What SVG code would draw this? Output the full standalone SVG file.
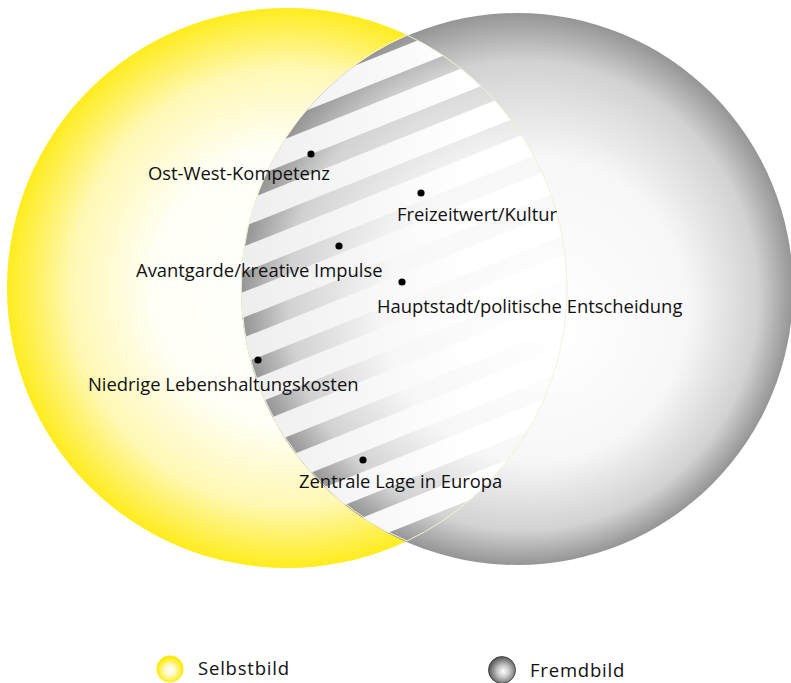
<svg xmlns="http://www.w3.org/2000/svg" width="791" height="683" viewBox="0 0 791 683">
<style>
.lbl{font-family:"Open Sans","Liberation Sans",sans-serif;font-size:18.4px;fill:#111;}
.leg{font-family:"Open Sans","Liberation Sans",sans-serif;font-size:18.5px;fill:#111;letter-spacing:0.8px;}
.dot{fill:#000;}
</style>
<defs>
<radialGradient id="gY" gradientUnits="userSpaceOnUse" cx="287" cy="288" r="280" fx="300" fy="285">
<stop offset="0" stop-color="#ffffff"/>
<stop offset="0.5" stop-color="#fffff6"/>
<stop offset="0.78" stop-color="#fff8b4"/>
<stop offset="1" stop-color="#ffec1e"/>
</radialGradient>
<radialGradient id="gG" gradientUnits="userSpaceOnUse" cx="517" cy="289" r="276" fx="560" fy="335">
<stop offset="0" stop-color="#ffffff"/>
<stop offset="0.55" stop-color="#f7f7f7"/>
<stop offset="0.85" stop-color="#d2d2d3"/>
<stop offset="1" stop-color="#959596"/>
</radialGradient>
<linearGradient id="gW" gradientUnits="userSpaceOnUse" x1="245" y1="0" x2="470" y2="0">
<stop offset="0" stop-color="#eeeeee"/>
<stop offset="1" stop-color="#ffffff"/>
</linearGradient>
<radialGradient id="gYs" cx="0.5" cy="0.55" r="0.5">
<stop offset="0" stop-color="#ffffff"/>
<stop offset="0.35" stop-color="#fffbd0"/>
<stop offset="1" stop-color="#ffe800"/>
</radialGradient>
<radialGradient id="gGs" cx="0.55" cy="0.55" r="0.55">
<stop offset="0" stop-color="#ffffff"/>
<stop offset="0.4" stop-color="#c8c8c8"/>
<stop offset="1" stop-color="#555555"/>
</radialGradient>
<clipPath id="cY"><circle cx="287" cy="288" r="280"/></clipPath>
<clipPath id="cLens" clip-path="url(#cY)"><circle cx="517" cy="289" r="276"/></clipPath>
</defs>

<g id="selbstbild-circle">
<circle cx="287" cy="288" r="280" fill="url(#gY)"/>
</g>
<g id="fremdbild-circle">
<circle cx="517" cy="289" r="276" fill="url(#gG)"/>
</g>
<g id="overlap">
<g clip-path="url(#cLens)">
<circle cx="517" cy="289" r="276" fill="url(#gG)"/>
<g fill="url(#gW)">
<polygon points="230,24.5 580,-115.5 580,-90 230,50"/>
<polygon points="230,70 580,-70 580,-44.5 230,95.5"/>
<polygon points="230,115.5 580,-24.5 580,1 230,141"/>
<polygon points="230,161 580,21 580,46.5 230,186.5"/>
<polygon points="230,206.5 580,66.5 580,92 230,232"/>
<polygon points="230,252 580,112 580,137.5 230,277.5"/>
<polygon points="230,297.5 580,157.5 580,183 230,323"/>
<polygon points="230,343 580,203 580,228.5 230,368.5"/>
<polygon points="230,388.5 580,248.5 580,274 230,414"/>
<polygon points="230,434 580,294 580,319.5 230,459.5"/>
<polygon points="230,479.5 580,339.5 580,365 230,505"/>
<polygon points="230,525 580,385 580,410.5 230,551"/>
<polygon points="230,570.5 580,430.5 580,456 230,596"/>
<polygon points="230,616 580,476 580,501.5 230,641.5"/>
</g>
</g>
<path d="M407,35 A280,280 0 0 1 407,541 A276,276 0 0 1 407,35 Z" fill="none" stroke="#f4f1d6" stroke-width="1"/>
</g>

<g id="node-ost-west">
<circle class="dot" cx="311" cy="154" r="3.6"/>
<text class="lbl" x="148" y="180">Ost-West-Kompetenz</text>
</g>
<g id="node-freizeitwert">
<circle class="dot" cx="421" cy="193" r="3.6"/>
<text class="lbl" x="397" y="221">Freizeitwert/Kultur</text>
</g>
<g id="node-avantgarde">
<circle class="dot" cx="339" cy="246" r="3.6"/>
<text class="lbl" x="136" y="277">Avantgarde/kreative Impulse</text>
</g>
<g id="node-hauptstadt">
<circle class="dot" cx="402" cy="282" r="3.6"/>
<text class="lbl" x="377" y="313">Hauptstadt/politische Entscheidung</text>
</g>
<g id="node-niedrige">
<circle class="dot" cx="258" cy="360" r="3.6"/>
<text class="lbl" x="88" y="391">Niedrige Lebenshaltungskosten</text>
</g>
<g id="node-zentrale">
<circle class="dot" cx="363" cy="460" r="3.6"/>
<text class="lbl" x="299" y="488">Zentrale Lage in Europa</text>
</g>

<g id="legend-selbstbild">
<circle cx="170" cy="669" r="13.5" fill="url(#gYs)"/>
<text class="leg" x="198" y="675">Selbstbild</text>
</g>
<g id="legend-fremdbild">
<circle cx="502" cy="670" r="13.5" fill="url(#gGs)" stroke="#333" stroke-width="0.8"/>
<text class="leg" x="530" y="677">Fremdbild</text>
</g>
</svg>
